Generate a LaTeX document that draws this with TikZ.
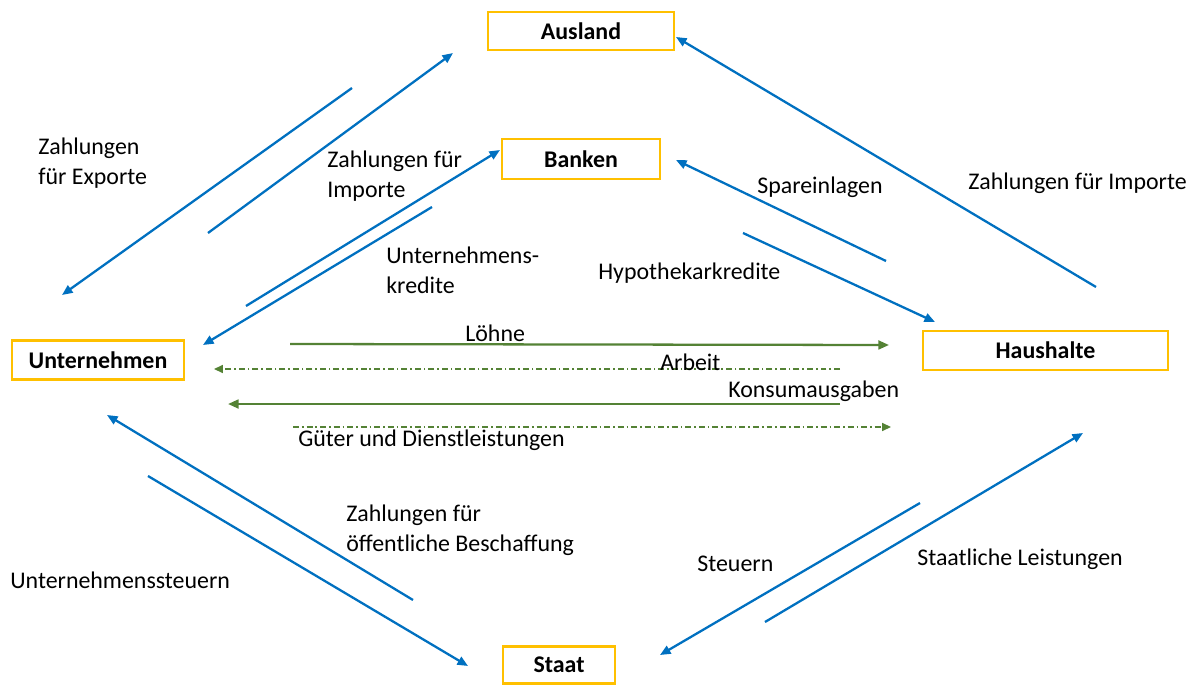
\documentclass[tikz,border=0pt]{standalone}
\usepackage{fontspec}
\setmainfont{Carlito}
\usepackage{xcolor}
\usetikzlibrary{arrows.meta, positioning}
\definecolor{flowblue}{HTML}{0070C0}
\definecolor{flowgreen}{HTML}{548235}
\definecolor{boxgold}{HTML}{FFC000}
\newcommand{\flowfont}{\fontsize{13.6pt}{17pt}\selectfont}
\tikzset{
  sector/.style={rectangle, draw=boxgold, line width=1.6pt, fill=white,
                 text centered, font=\flowfont\bfseries, inner sep=0pt},
  lbl/.style={anchor=west, inner sep=0pt, align=left, font=\flowfont},
  money/.style={-{Triangle[length=6pt, width=5pt]}, draw=flowblue, line width=1.3pt},
  realflow/.style={-{Triangle[length=6pt, width=5pt]}, draw=flowgreen, line width=1.3pt},
  goodsflow/.style={-{Triangle[length=5pt, width=4.5pt]}, draw=flowgreen, line width=0.8pt,
                    dash pattern=on 3.4pt off 1.7pt on 0.9pt off 1.7pt},
}

\begin{document}
\begin{tikzpicture}[x=0.02cm, y=-0.02cm]
  \useasboundingbox (0,0) rectangle (1197,686);

  % sectors
  \node[sector, minimum width=3.72cm, minimum height=0.76cm] (ausland) at (581,31) {Ausland};
  \node[sector, minimum width=3.16cm, minimum height=0.80cm] (banken) at (581,159) {Banken};
  \node[sector, minimum width=3.44cm, minimum height=0.78cm] (firm) at (98,360) {Unternehmen\hspace{0.2cm}};
  \node[sector, minimum width=4.90cm, minimum height=0.78cm] (hh) at (1045.5,350.5) {Haushalte};
  \node[sector, minimum width=2.24cm, minimum height=0.74cm] (staat) at (559,665) {Staat};

  % arrow ends
  \coordinate (exA) at (352,88);   \coordinate (exB) at (62,295);
  \coordinate (imA) at (208,233);  \coordinate (imB) at (453,53);
  \coordinate (bkA) at (246,306);  \coordinate (bkB) at (500,150);
  \coordinate (krA) at (432,207);  \coordinate (krB) at (203,345);
  \coordinate (hiA) at (1096,287); \coordinate (hiB) at (676,37);
  \coordinate (spA) at (886,261);  \coordinate (spB) at (676,160);
  \coordinate (hyA) at (743,233);  \coordinate (hyB) at (935,322);
  \coordinate (loA) at (290,344);  \coordinate (loB) at (889,345);
  \coordinate (arA) at (840,369);  \coordinate (arB) at (214,369);
  \coordinate (koA) at (840,404);  \coordinate (koB) at (228,404);
  \coordinate (guA) at (293,427);  \coordinate (guB) at (891,427);
  \coordinate (beA) at (413,600);  \coordinate (beB) at (107,415);
  \coordinate (usA) at (148,476);  \coordinate (usB) at (468,666);
  \coordinate (stA) at (920,503);  \coordinate (stB) at (660,655);
  \coordinate (leA) at (765,622);  \coordinate (leB) at (1083,433);

  \draw[money] (exA) -- (exB);
  \draw[money] (imA) -- (imB);
  \draw[money] (bkA) -- (bkB);
  \draw[money] (krA) -- (krB);
  \draw[money] (hiA) -- (hiB);
  \draw[money] (spA) -- (spB);
  \draw[money] (hyA) -- (hyB);
  \draw[realflow] (loA) -- (loB);
  \draw[goodsflow] (arA) -- (arB);
  \draw[realflow] (koA) -- (koB);
  \draw[goodsflow] (guA) -- (guB);
  \draw[money] (beA) -- (beB);
  \draw[money] (usA) -- (usB);
  \draw[money] (stA) -- (stB);
  \draw[money] (leA) -- (leB);

  % labels
  \node[lbl] (lexp) at (38,163) {Zahlungen\\für Exporte};
  \node[lbl] (limp) at (327,176) {Zahlungen für\\Importe};
  \node[lbl] (lkred) at (386,270) {Unternehmens-\\kredite};
  \node[lbl] (lspar) at (757,187) {Spareinlagen};
  \node[lbl] (lhyp) at (598,273) {Hypothekarkredite};
  \node[lbl] (limp2) at (968,183) {Zahlungen für Importe};
  \node[lbl] (llohn) at (465,333) {Löhne};
  \node[lbl] (larb) at (660,362) {Arbeit};
  \node[lbl] (lkons) at (728,391) {Konsumausgaben};
  \node[lbl] (lgut) at (298,440) {Güter und Dienstleistungen};
  \node[lbl] (lbes) at (346,530) {Zahlungen für\\öffentliche Beschaffung};
  \node[lbl] (lust) at (10,580) {Unternehmenssteuern};
  \node[lbl] (lst) at (697,564) {Steuern};
  \node[lbl] (lleist) at (917,559) {Staatliche Leistungen};
\end{tikzpicture}
\end{document}
